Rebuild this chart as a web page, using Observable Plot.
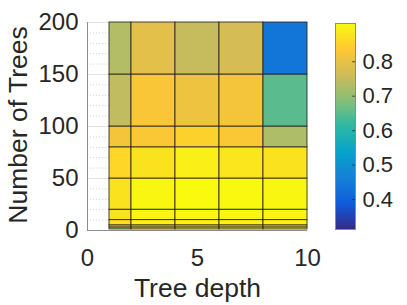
<!DOCTYPE html>
<html><head><meta charset="utf-8">
<script src="https://cdn.jsdelivr.net/npm/d3@7"></script>
<script src="https://cdn.jsdelivr.net/npm/@observablehq/plot@0.6"></script>
<style>
html,body{margin:0;padding:0;background:#fff;}
#chart{position:relative;width:407px;height:305px;overflow:hidden;}
#chart svg{position:absolute;top:0;left:0;font-family:"Liberation Sans",Arial,Helvetica,sans-serif;}
</style></head><body><div id="chart"></div>
<script>
// ---- data ----
const depthEdges = [1, 2, 4, 6, 8, 10];
const treeEdges = [1, 3, 5, 10, 20, 50, 80, 100, 150, 200];
// rows bottom -> top (between successive treeEdges), columns by depth interval
const accuracy = [
  [0.73, 0.82, 0.86, 0.86, 0.86],
  [0.85, 0.87, 0.88, 0.88, 0.88],
  [0.865, 0.895, 0.897, 0.897, 0.895],
  [0.875, 0.9, 0.905, 0.905, 0.9],
  [0.875, 0.905, 0.91, 0.908, 0.905],
  [0.857, 0.875, 0.893, 0.88, 0.875],
  [0.82, 0.83, 0.85, 0.83, 0.726],
  [0.745, 0.827, 0.81, 0.82, 0.648],
  [0.73, 0.79, 0.75, 0.77, 0.44]
];
const xTicks = [0, 5, 10];
const yTicks = [0, 50, 100, 150, 200];
const cbTicks = [0.4, 0.5, 0.6, 0.7, 0.8];
const cbDomain = [0.313, 0.911];
const parula = ["#352a87","#0f5cdd","#1481d6","#06a4ca","#2eb7a4","#87bf77","#d1bb59","#fec832","#f9fb0e"];

// ---- build ----
const cells = [];
accuracy.forEach((row, i) => row.forEach((v, j) => cells.push({
  x1: depthEdges[j], x2: depthEdges[j + 1], y1: treeEdges[i], y2: treeEdges[i + 1], v
})));
const colorDomain = parula.map((_, i) => cbDomain[0] + i * (cbDomain[1] - cbDomain[0]) / (parula.length - 1));
const colorScale = {type: "linear", domain: colorDomain, range: parula, interpolate: "rgb", clamp: true};
const font = '"Liberation Sans",Arial,Helvetica,sans-serif';
const ink = "#262626";

const main = Plot.plot({
  width: 407, height: 305,
  marginLeft: 87, marginRight: 100, marginTop: 22, marginBottom: 75,
  style: {fontFamily: font, color: ink, background: "transparent", overflow: "visible"},
  x: {domain: [0, 10], label: null},
  y: {domain: [0, 200], label: null},
  color: colorScale,
  marks: [
    Plot.ruleY(d3.range(0, 201, 10).filter(d => d % 50), {stroke: "#c4c4c4", strokeWidth: 0.7, strokeDasharray: "1.2,1.8"}),
    Plot.ruleY(yTicks, {stroke: "#e3e3e3", strokeWidth: 1}),
    Plot.rect(cells, {x1: "x1", x2: "x2", y1: "y1", y2: "y2", fill: "v", stroke: "#1e1e1e", strokeWidth: 0.9, strokeOpacity: 0.9}),
    Plot.ruleX([0], {stroke: "#8c8c8c", strokeWidth: 1}),
    Plot.ruleY([0], {stroke: "#8c8c8c", strokeWidth: 1}),
    Plot.axisX(xTicks, {tickSize: 0, tickPadding: 18, fontSize: 24, fill: ink}),
    Plot.axisY(yTicks, {tickSize: 0, tickPadding: 9, fontSize: 24, fill: ink})
  ]
});

const nStripes = 240;
const stripes = d3.range(nStripes).map(i => {
  const a = cbDomain[0] + i * (cbDomain[1] - cbDomain[0]) / nStripes;
  const b = cbDomain[0] + (i + 1) * (cbDomain[1] - cbDomain[0]) / nStripes;
  return {y1: a, y2: b, v: (a + b) / 2};
});
const bar = Plot.plot({
  width: 407, height: 305,
  marginLeft: 335, marginRight: 52, marginTop: 23, marginBottom: 76,
  style: {fontFamily: font, color: ink, background: "transparent", overflow: "visible"},
  x: {domain: [0, 1], axis: null},
  y: {domain: cbDomain, label: null},
  color: colorScale,
  marks: [
    Plot.rect(stripes, {x1: 0, x2: 1, y1: "y1", y2: "y2", fill: "v", inset: 0, shapeRendering: "crispEdges"}),
    Plot.ruleY(cbTicks, {x1: 0.86, x2: 1, stroke: ink, strokeWidth: 0.8}),
    Plot.frame({stroke: "#8c8c8c", strokeWidth: 1}),
    Plot.axisY(cbTicks, {anchor: "right", tickSize: 0, tickPadding: 7, fontSize: 22, fill: ink})
  ]
});

const host = document.getElementById("chart");
host.appendChild(main);
host.appendChild(bar);

const svg = d3.select(main);
svg.append("text").attr("x", 197.5).attr("y", 297).attr("text-anchor", "middle")
  .attr("font-size", 26.5).attr("font-family", font).attr("fill", ink).text("Tree depth");
svg.append("text").attr("transform", "translate(27,125) rotate(-90)").attr("text-anchor", "middle")
  .attr("font-size", 26.5).attr("font-family", font).attr("fill", ink).text("Number of Trees");
</script></body></html>
